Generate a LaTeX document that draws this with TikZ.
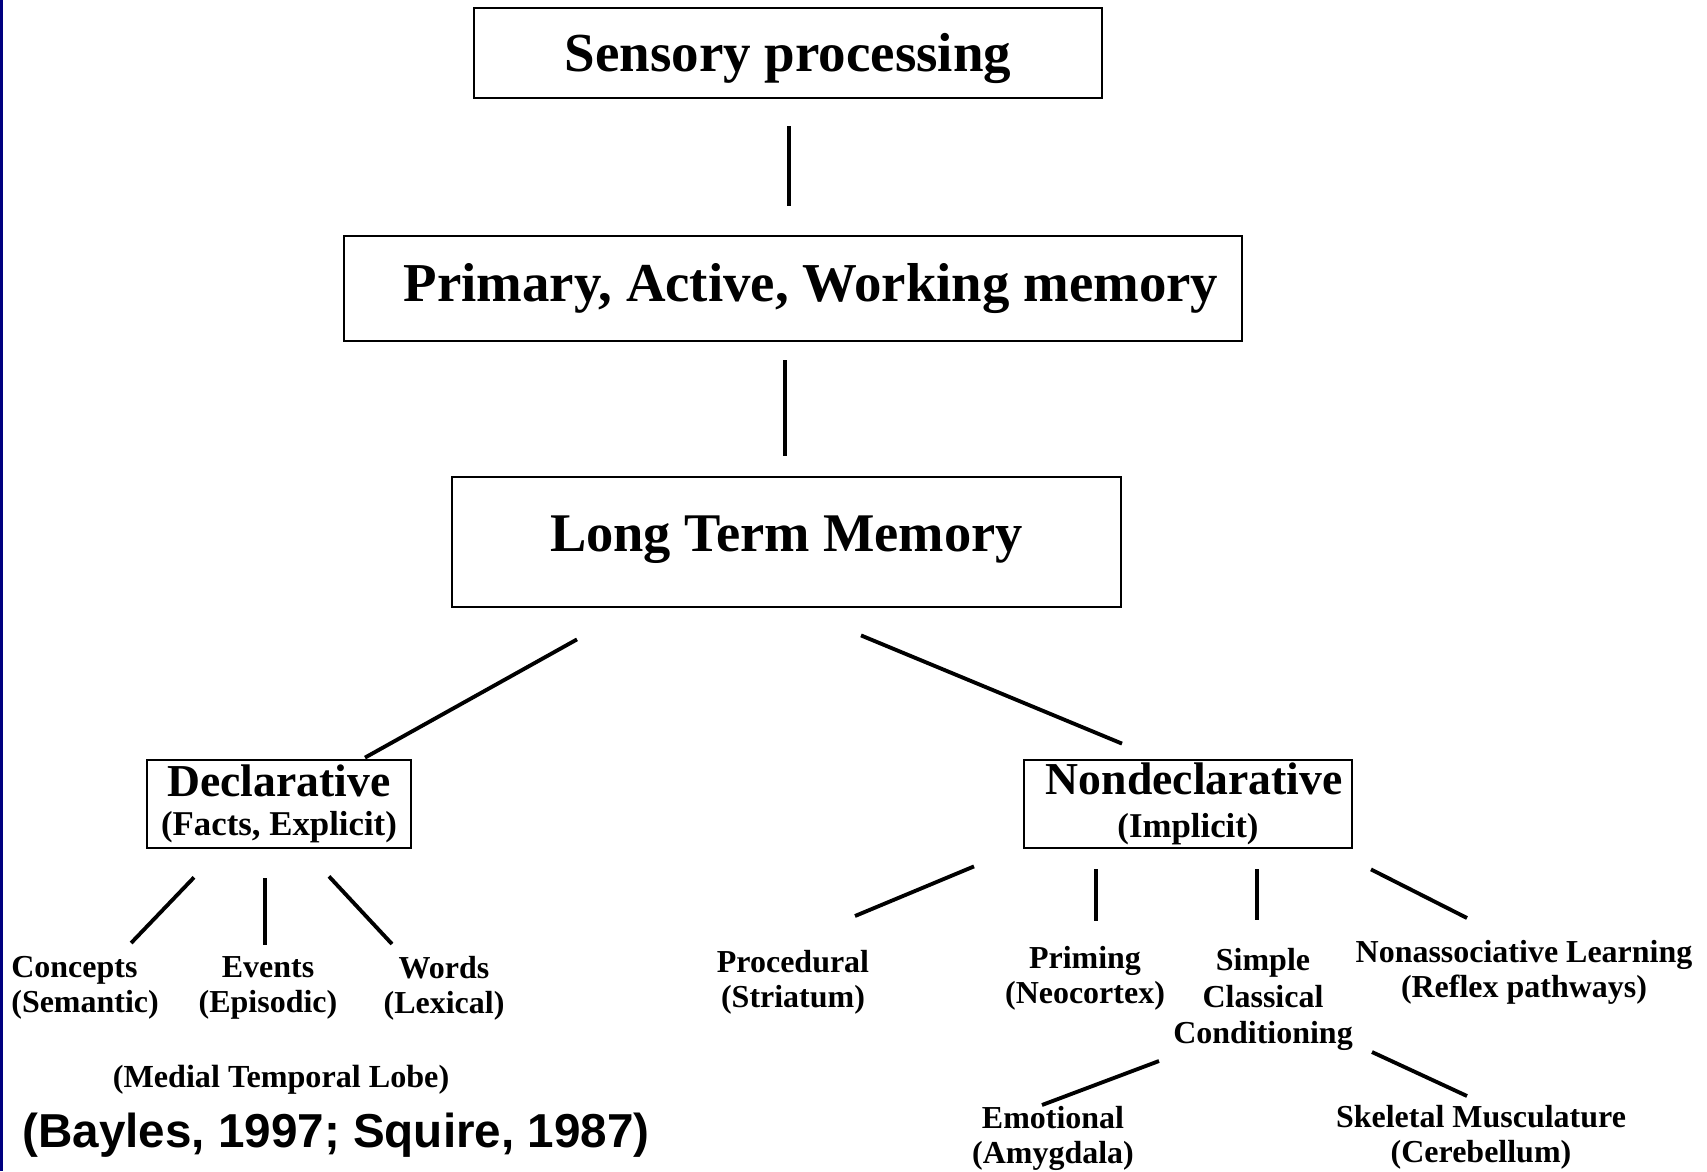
\documentclass[tikz,border=0pt]{standalone}
\usepackage{fontspec}
\setmainfont{Liberation Serif}
\newfontfamily\citefont{Liberation Sans}
\usetikzlibrary{calc}
\definecolor{edgeblue}{RGB}{0,0,128}

\tikzset{
  box/.style={draw, line width=1.6pt, inner sep=0pt, align=center},
  link/.style={line width=2.2pt},
  lbl/.style={inner sep=0pt, align=center, font=\bfseries\fontsize{18.2}{20}\selectfont}
}

\begin{document}
\begin{tikzpicture}[x=0.02cm, y=-0.02cm]

    % page and the blue edge on the left
    \useasboundingbox (0,0) rectangle (1707,1171);
    \fill[edgeblue] (0,0) rectangle (3,1171);

    % main chain
    \node[box, minimum width=12.56cm, minimum height=1.8cm, font=\bfseries\fontsize{31.3}{34}\selectfont] (sens) at (788,53) {\raisebox{-3pt}[\height][\depth]{Sensory processing}};
    \node[box, minimum width=17.96cm, minimum height=2.1cm, font=\bfseries\fontsize{31.2}{34}\selectfont] (prim) at (793,288.5) {\hspace*{0.72cm}Primary, Active, Working memory};
    \node[box, minimum width=13.38cm, minimum height=2.6cm, font=\bfseries\fontsize{31}{34}\selectfont] (ltm) at (786.5,542) {\raisebox{10pt}{Long Term Memory}};
    \draw[link] ($(sens.south)+(1,27)$) -- ($(prim.north)+(-4,-29)$);
    \draw[link] ($(prim.south)+(-8,18)$) -- ($(ltm.north)+(-1.5,-20)$);

    % two branches
    \node[box, minimum width=5.28cm, minimum height=1.76cm, font=\bfseries\fontsize{19.8}{22.2}\selectfont] (decl) at (279,804) {{\fontsize{26}{26}\selectfont Declarative}\\(Facts, Explicit)};
    \node[box, minimum width=6.56cm, minimum height=1.76cm, font=\bfseries\fontsize{19.8}{24.5}\selectfont] (nondecl) at (1188,804) {\hspace*{0.25cm}{\fontsize{26}{26}\selectfont Nondeclarative}\\(Implicit)};
    \draw[link] ($(ltm.south)+(-209.5,31)$) -- ($(decl.north)+(86,-1)$);
    \draw[link] ($(ltm.south)+(74.5,27)$) -- ($(nondecl.north)+(-66,-15)$);

    % declarative side
    \node[lbl, align=left, anchor=west] (conc) at (11,988) {Concepts\\(Semantic)};
    \node[lbl] (events) at (268,988) {Events\\(Episodic)};
    \node[lbl] (words) at (444,988) {Words\\(Lexical)};
    \node[lbl, font=\bfseries\fontsize{18.3}{20}\selectfont] (medial) at (281,1080) {(Medial Temporal Lobe)};
    \draw[link] ($(decl.south)+(-85,28)$) -- ($(conc.east)+(-28,-45)$);
    \draw[link] ($(decl.south)+(-14,29)$) -- ($(events)+(-3,-43)$);
    \draw[link] ($(decl.south)+(50,27)$) -- ($(words)+(-52,-44)$);

    % nondeclarative side
    \node[lbl] (proc) at (793,982.5) {Procedural\\(Striatum)};
    \node[lbl] (priming) at (1085,978) {Priming\\(Neocortex)};
    \node[lbl, font=\bfseries\fontsize{18.2}{20.8}\selectfont] (simple) at (1263,999.5) {Simple\\Classical\\Conditioning};
    \node[lbl] (nonassoc) at (1524,972.5) {Nonassociative Learning\\(Reflex pathways)};
    \draw[link] ($(nondecl.south)+(-214,17)$) -- ($(proc)+(62,-66.5)$);
    \draw[link] ($(nondecl.south)+(-92,20)$) -- ($(priming)+(11,-57)$);
    \draw[link] ($(nondecl.south)+(69,20)$) -- ($(simple)+(-6,-79.5)$);
    \draw[link] ($(nondecl.south)+(183,20)$) -- ($(nonassoc)+(-57,-54.5)$);

    % conditioning
    \node[lbl] (emo) at (1053,1138) {Emotional\\(Amygdala)};
    \node[lbl] (skel) at (1481,1137.5) {Skeletal Musculature\\(Cerebellum)};
    \draw[link] ($(simple)+(-104,61.5)$) -- ($(emo)+(-11,-33)$);
    \draw[link] ($(simple)+(109,52.5)$) -- ($(skel)+(-14,-41.5)$);

    % source
    \node[anchor=west, inner sep=0pt, font=\citefont\bfseries\fontsize{27.1}{30}\selectfont] (cite) at (22,1135) {(Bayles, 1997; Squire, 1987)};

\end{tikzpicture}
\end{document}
